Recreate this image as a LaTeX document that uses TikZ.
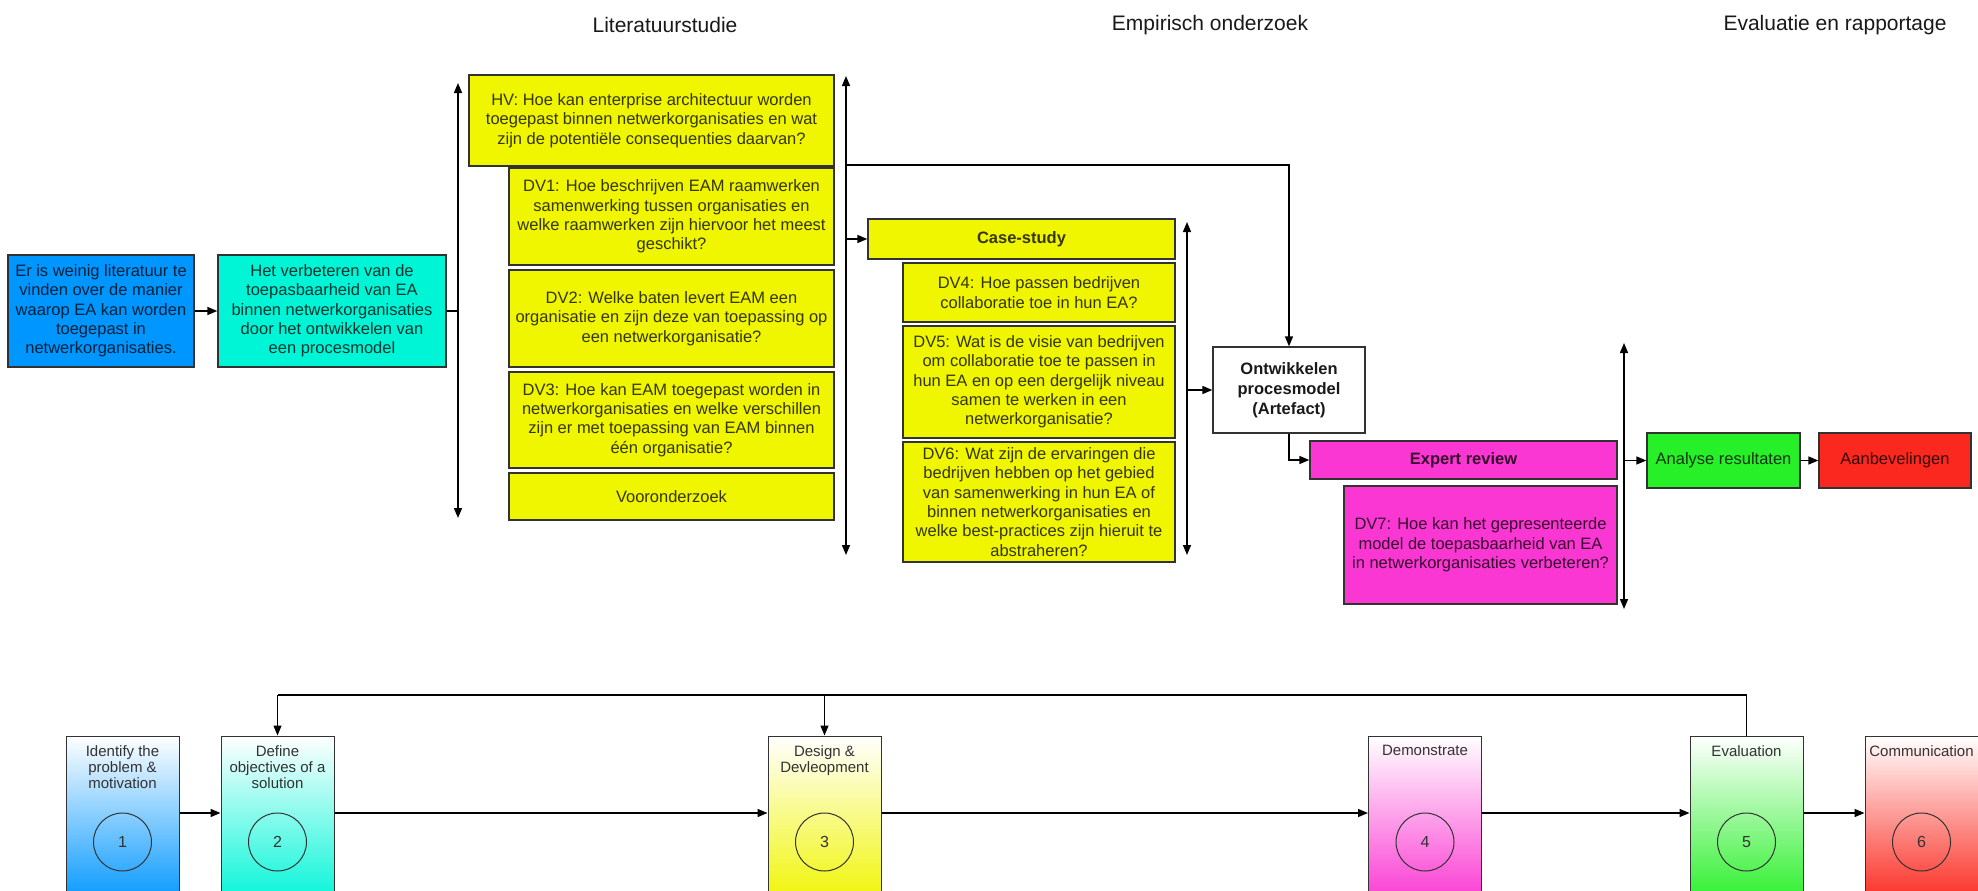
\documentclass[tikz,border=0pt]{standalone}
\usepackage{fontspec}
\setmainfont{Liberation Sans}
\usetikzlibrary{arrows.meta}

\definecolor{cBlue}{RGB}{0,150,255}
\definecolor{cCyan}{RGB}{0,245,215}
\definecolor{cYellow}{RGB}{240,245,0}
\definecolor{cMagenta}{RGB}{250,55,210}
\definecolor{cGreen}{RGB}{40,240,40}
\definecolor{cRed}{RGB}{250,40,30}
\definecolor{edge}{RGB}{50,50,50}
\definecolor{ink}{RGB}{25,25,25}
\definecolor{softink}{RGB}{50,50,50}

\begin{document}
\begin{tikzpicture}[x=1pt,y=-1pt,
  every node/.style={font=\fontsize{16.5}{19.3}\selectfont, text=ink},
  box/.style 2 args={draw=edge, line width=1.3pt, minimum width=#1pt,
    minimum height=#2pt, inner sep=0pt, align=center},
  tint/.style={fill=#1, text=black!78!#1},
  head/.style={font=\fontsize{21}{25}\selectfont, text=ink},
  bold/.style={font=\fontsize{16.5}{20}\selectfont\bfseries},
  conn/.style={line width=1.5pt, draw=black},
  arr/.style={conn, -{Triangle[length=10pt,width=8pt]}},
  dbl/.style={conn, {Triangle[length=10pt,width=8pt]}-{Triangle[length=10pt,width=8pt]}},
  stage/.style={draw=edge, line width=1pt, minimum width=113pt,
    minimum height=169pt, inner sep=0pt, top color=white, bottom color=#1},
  stagelbl/.style={anchor=north, align=center, inner sep=0pt,
    font=\fontsize{15}{16.3}\selectfont, text=softink},
  num/.style={circle, draw=edge, line width=1pt, minimum size=58pt,
    inner sep=0pt, font=\fontsize{16}{18}\selectfont, text=softink}
]
\useasboundingbox (0,0) rectangle (1978,891);
\fill[white] (0,0) rectangle (1978,891);

% phase headings
\node[head] (h1) at (665,25) {Literatuurstudie};
\node[head] (h2) at (1210,25) {Empirisch onderzoek};
\node[head] (h3) at (1835,25) {Evaluatie en rapportage};

% problem and objective
\node[box={186}{112}, tint=cBlue] (er) at (101,311)
  {Er is weinig literatuur te\\vinden over de manier\\waarop EA kan worden\\toegepast in\\netwerkorganisaties.};
\node[box={228}{112}, tint=cCyan] (doel) at (332,311)
  {Het verbeteren van de\\toepasbaarheid van EA\\binnen netwerkorganisaties\\door het ontwikkelen van\\een procesmodel};

% literature study
\node[box={365}{91}, tint=cYellow] (hv) at (651.5,120.5)
  {HV: Hoe kan enterprise architectuur worden\\toegepast binnen netwerkorganisaties en wat\\zijn de potentiële consequenties daarvan?};
\node[box={325}{97}, tint=cYellow] (dv1) at (671.5,216.5)
  {DV1: Hoe beschrijven EAM raamwerken\\samenwerking tussen organisaties en\\welke raamwerken zijn hiervoor het meest\\geschikt?};
\node[box={325}{97}, tint=cYellow] (dv2) at (671.5,318.5)
  {DV2: Welke baten levert EAM een\\organisatie en zijn deze van toepassing op\\een netwerkorganisatie?};
\node[box={325}{96}, tint=cYellow] (dv3) at (671.5,420)
  {DV3: Hoe kan EAM toegepast worden in\\netwerkorganisaties en welke verschillen\\zijn er met toepassing van EAM binnen\\één organisatie?};
\node[box={325}{47}, tint=cYellow] (voor) at (671.5,496.5) {Vooronderzoek};

% empirical study
\node[box={307}{40}, tint=cYellow, bold] (cs) at (1021.5,239) {Case-study};
\node[box={272}{59}, tint=cYellow] (dv4) at (1039,292.5)
  {DV4: Hoe passen bedrijven\\collaboratie toe in hun EA?};
\node[box={272}{112}, tint=cYellow] (dv5) at (1039,382)
  {DV5: Wat is de visie van bedrijven\\om collaboratie toe te passen in\\hun EA en op een dergelijk niveau\\samen te werken in een\\netwerkorganisatie?};
\node[box={272}{120}, tint=cYellow] (dv6) at (1039,502)
  {DV6: Wat zijn de ervaringen die\\bedrijven hebben op het gebied\\van samenwerking in hun EA of\\binnen netwerkorganisaties en\\welke best-practices zijn hieruit te\\abstraheren?};

% artefact and review
\node[box={152}{86}, fill=white, bold] (ontw) at (1289,390)
  {Ontwikkelen\\procesmodel\\(Artefact)};
\node[box={307}{38}, tint=cMagenta, bold] (expert) at (1463.5,460) {Expert review};
\node[box={273}{118}, tint=cMagenta] (dv7) at (1480.5,545)
  {DV7: Hoe kan het gepresenteerde\\model de toepasbaarheid van EA\\in netwerkorganisaties verbeteren?};

% evaluation and reporting
\node[box={153}{55}, tint=cGreen] (analyse) at (1723.5,460.5) {Analyse resultaten};
\node[box={152}{55}, tint=cRed] (aanb) at (1895,460.5) {Aanbevelingen};

% vertical phase spans
\coordinate (l1t) at (458,83);   \coordinate (l1b) at (458,518);
\coordinate (l2t) at (846,76);   \coordinate (l2b) at (846,555);
\coordinate (l3t) at (1187,222); \coordinate (l3b) at (1187,555);
\coordinate (l4t) at (1624,343); \coordinate (l4b) at (1624,609);
\coordinate (hvtap) at (846,165);
\draw[dbl] (l1t) -- (l1b);
\draw[dbl] (l2t) -- (l2b);
\draw[dbl] (l3t) -- (l3b);
\draw[dbl] (l4t) -- (l4b);

% connectors
\draw[arr] (er) -- (doel);
\draw[conn] (doel.east) -- (doel.east -| l1t);
\draw[arr] (cs.west -| l2t) -- (cs.west);
\draw[arr] (hvtap) -| (ontw.north);
\draw[arr] (ontw.west -| l3t) -- (ontw.west);
\draw[arr] (ontw.south) |- (expert.west);
\draw[arr] (analyse.west -| l4t) -- (analyse.west);
\draw[arr] (analyse) -- (aanb);

% design science research process
\coordinate (row) at (0,813);
\coordinate (crow) at (0,842);
\coordinate (lrow) at (0,745);
\coordinate (fbrow) at (0,695);
\begin{scope}
  \clip (0,600) rectangle (1978,891);
  \node[stage=cBlue]    (b1) at (122.5,820.5) {};
  \node[stage=cCyan]    (b2) at (277.5,820.5) {};
  \node[stage=cYellow]  (b3) at (824.5,820.5) {};
  \node[stage=cMagenta] (b4) at (1425,820.5) {};
  \node[stage=cGreen]   (b5) at (1746.5,820.5) {};
  \node[stage=cRed]     (b6) at (1921.5,820.5) {};
\end{scope}

\node[stagelbl] (t1) at (b1.north |- lrow) {Identify the\\problem \&\\motivation};
\node[stagelbl] (t2) at (b2.north |- lrow) {Define\\objectives of a\\solution};
\node[stagelbl] (t3) at (b3.north |- lrow) {Design \&\\Devleopment};
\node[stagelbl] (t4) at (b4.north |- lrow) {Demonstrate};
\node[stagelbl] (t5) at (b5.north |- lrow) {Evaluation};
\node[stagelbl] (t6) at (b6.north |- lrow) {Communication};

\node[num] (c1) at (b1.north |- crow) {1};
\node[num] (c2) at (b2.north |- crow) {2};
\node[num] (c3) at (b3.north |- crow) {3};
\node[num] (c4) at (b4.north |- crow) {4};
\node[num] (c5) at (b5.north |- crow) {5};
\node[num] (c6) at (b6.north |- crow) {6};

\draw[arr] (b1.east |- row) -- (b2.west |- row);
\draw[arr] (b2.east |- row) -- (b3.west |- row);
\draw[arr] (b3.east |- row) -- (b4.west |- row);
\draw[arr] (b4.east |- row) -- (b5.west |- row);
\draw[arr] (b5.east |- row) -- (b6.west |- row);

% feedback loop from evaluation
\draw[conn, line width=1.2pt] (b5.north) |- (b2.north |- fbrow);
\draw[arr, line width=1.2pt] (b2.north |- fbrow) -- (b2.north);
\draw[arr, line width=1.2pt] (b3.north |- fbrow) -- (b3.north);
\end{tikzpicture}
\end{document}
